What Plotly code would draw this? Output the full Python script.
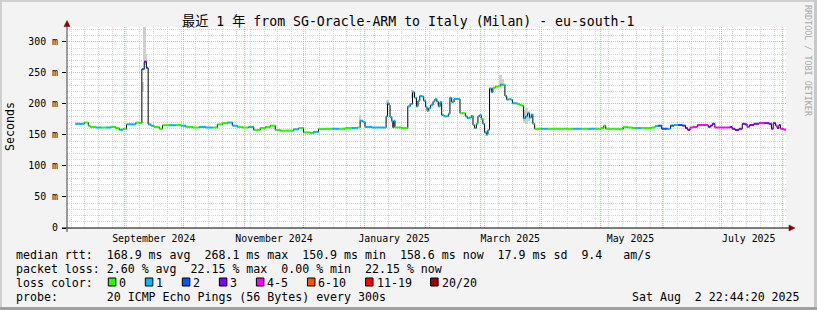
import pandas as pd
import plotly.graph_objects as go

# ---------------- data ----------------
START = pd.Timestamp("2024-08-02 22:44:20")
END = pd.Timestamp("2025-08-02 22:44:20")

day_offset = [4.2, 6.2, 8.8, 10.8, 11.7, 14.7, 17.2, 19.8, 22.3, 24.8, 26.5, 28.5, 30.2, 32.9, 35.0, 36.6,
              38.0, 39.2, 40.3, 41.2, 42.6, 44.2, 46.8, 48.5, 51.9, 55.2, 57.8, 60.3, 63.7, 67.1, 70.5,
              73.8, 76.3, 78.9, 81.4, 83.9, 86.5, 89.0, 92.2, 94.8, 98.1, 100.7, 103.2, 105.7, 108.3,
              111.7, 115.1, 117.6, 120.1, 123.5, 125.2, 127.7, 131.1, 134.5, 137.9, 141.2, 144.6, 147.5,
              148.8, 150.2, 151.3, 154.7, 158.1, 160.7, 162.0, 162.7, 163.5, 164.0, 164.9, 165.4, 165.9,
              166.5, 169.9, 172.1, 173.0, 174.2, 175.4, 176.4, 177.4, 178.2, 179.1, 180.1, 181.1, 182.1,
              182.8, 183.6, 184.6, 185.8, 186.8, 187.7, 188.5, 189.4, 190.2, 191.4, 192.7, 193.6, 194.4,
              195.3, 196.5, 198.2, 199.5, 200.9, 202.2, 203.2, 204.4, 205.3, 206.1, 206.9, 207.8, 208.6,
              209.5, 210.3, 211.1, 212.0, 213.0, 213.7, 214.5, 215.4, 216.2, 217.4, 218.8, 220.1, 221.3,
              222.3, 223.2, 224.2, 225.2, 226.1, 227.2, 228.6, 229.9, 231.1, 231.8, 232.8, 233.8, 234.8,
              235.7, 236.5, 237.4, 240.7, 244.1, 249.2, 252.6, 256.8, 261.0, 264.4, 267.8, 271.2, 272.5,
              273.5, 276.9, 280.3, 282.3, 284.5, 287.0, 288.7, 291.2, 293.8, 296.8, 298.5, 300.2, 301.9,
              304.8, 306.4, 308.2, 310.3, 312.4, 314.0, 315.1, 316.3, 317.8, 320.0, 322.5, 324.5, 325.5,
              326.7, 327.6, 328.9, 331.8, 334.3, 336.5, 337.7, 339.1, 341.1, 342.8, 344.1, 345.3, 346.5,
              348.7, 351.2, 353.8, 356.3, 357.6, 358.5, 359.7, 360.5, 361.4, 362.2, 363.9]

median_ms = [168, 168, 170, 165, 163, 162, 162, 162, 163, 161, 158.5, 160, 167, 167, 170, 169,
             256, 268.1, 258, 167, 165, 163, 160, 165.6, 165.6, 166, 165, 163, 162, 163, 162,
             162, 167, 169, 170, 165, 163, 162, 163, 158, 161, 163, 165, 158, 157,
             157, 159, 161, 154, 153, 155, 159.7, 160, 160, 160, 161, 161, 162,
             173, 171, 163, 162, 162, 162, 180, 201, 198, 179, 172, 162, 173,
             162, 161, 161, 196, 200, 219, 210, 196, 205, 213, 212, 205, 195,
             189, 193, 198, 204, 208, 204, 196, 203, 182, 180, 180, 184, 210,
             203, 208, 208, 185, 185, 180, 177, 178, 181, 166, 161, 168, 180,
             182, 176, 168, 154, 150.9, 158, 225, 219, 226, 228, 229, 231, 231,
             213, 207, 208, 207, 201, 201, 200, 198, 197, 177, 180, 185, 178,
             183, 168, 160, 160, 160, 160, 160, 160, 160, 160, 160, 161, 165,
             160, 160, 159, 163, 162, 161, 161, 161, 161, 162, 164, 165, 160,
             160, 165, 166, 166, 165, 161, 158, 162, 163, 166, 166, 166, 163,
             165, 168, 162, 162, 162, 163, 160, 158, 160, 168, 167, 163, 166,
             168, 169, 169, 168, 160, 169, 165, 161, 166, 160, 158.6]

loss_idx = [1, 1, 0, 0, 0, 1, 0, 1, 0, 0, 1, 0, 1, 1, 0, 0,
            2, 3, 2, 1, 1, 0, 0, 0, 1, 0, 1, 0, 0, 1, 1,
            0, 0, 0, 1, 1, 0, 0, 1, 0, 0, 0, 0, 0, 0,
            0, 1, 0, 0, 0, 1, 0, 0, 1, 0, 0, 1, 0,
            1, 1, 1, 1, 1, 1, 1, 1, 1, 1, 1, 1, 1,
            0, 0, 0, 1, 1, 1, 1, 1, 1, 1, 1, 1, 1,
            1, 1, 1, 1, 1, 1, 1, 1, 1, 1, 1, 1, 1,
            1, 1, 1, 0, 0, 1, 1, 1, 0, 1, 1, 0, 1,
            1, 0, 1, 1, 1, 1, 1, 1, 0, 0, 0, 1, 0,
            1, 1, 0, 1, 1, 1, 0, 0, 0, 1, 1, 1, 1,
            1, 0, 0, 1, 0, 0, 0, 1, 0, 1, 0, 0, 0,
            0, 0, 0, 0, 0, 0, 1, 0, 0, 0, 1, 2, 2,
            1, 2, 1, 2, 3, 3, 3, 4, 4, 4, 4, 4, 3,
            3, 3, 4, 4, 4, 3, 3, 3, 3, 3, 3, 4, 3,
            3, 4, 3, 3, 3, 3, 4, 3, 3, 4, 4]

loss_labels = ["0", "1", "2", "3", "4-5", "6-10", "11-19", "20/20"]
loss_colors = ["#26ff00", "#00b8ff", "#0059ff", "#7e00ff", "#ff00ff", "#ff5500", "#ff0000", "#a10000"]

# smoke (spread of the individual pings) around the median
smoke_day = [38.6, 39.2, 39.8, 148.8, 162.6, 175.2, 176.0, 213.0, 220.2, 221.0, 232.0, 233.2, 234.4]
smoke_lo = [219, 270, 262, 173, 198, 211, 209, 148, 229, 232, 170, 168, 172]
smoke_hi = [236, 340, 280, 182, 207, 222, 216, 156, 246, 240, 190, 194, 188]

x_label_dates = ["2024-09-16", "2024-11-16", "2025-01-16", "2025-03-16", "2025-05-16", "2025-07-15"]
x_label_text = ["September 2024", "November 2024", "January 2025", "March 2025", "May 2025", "July 2025"]
month_starts = pd.date_range("2024-09-01", "2025-08-01", freq="MS")

y_tick_vals = [0, 50, 100, 150, 200, 250, 300]
y_tick_text = ["0", "50 m", "100 m", "150 m", "200 m", "250 m", "300 m"]

title_text = "最近 1 年 from SG-Oracle-ARM to Italy (Milan) - eu-south-1"
legend_rtt = "median rtt:  168.9 ms avg  268.1 ms max  150.9 ms min  158.6 ms now  17.9 ms sd  9.4   am/s"
legend_loss = "packet loss: 2.60 % avg  22.15 % max  0.00 % min  22.15 % now"
legend_probe = "probe:       20 ICMP Echo Pings (56 Bytes) every 300s"
stamp_text = "Sat Aug  2 22:44:20 2025"

# ---------------- figure ----------------
W, H = 817, 310
PL, PR, PT, PB = 67, 786, 27, 228


def px(x):
    return (x - PL) / (PR - PL)


def py(y):
    return (PB - y) / (PB - PT)


def nb(s):
    return s.replace(" ", "\u00a0")


MONO = "DejaVu Sans Mono"
times = START + pd.to_timedelta(day_offset, unit="D")
t_next = list(times[1:]) + [END]

fig = go.Figure()

# smoke
fig.add_trace(go.Bar(
    x=START + pd.to_timedelta(smoke_day, unit="D"),
    y=[h - l for h, l in zip(smoke_hi, smoke_lo)],
    base=smoke_lo,
    width=1.4 * 86400000,
    marker=dict(color="#cfcfcf", line=dict(width=0)),
    hoverinfo="skip", showlegend=False,
))

# black median step line
fig.add_trace(go.Scatter(
    x=list(times) + [END], y=median_ms + [median_ms[-1]],
    mode="lines", line=dict(color="#000000", width=1, shape="hv"),
    hoverinfo="skip", showlegend=False,
))

# loss-coloured median segments
for k, col in enumerate(loss_colors):
    xs, ys = [], []
    for t0, t1, v, c in zip(times, t_next, median_ms, loss_idx):
        if c == k:
            xs += [t0, t1, None]
            ys += [v, v, None]
    if xs:
        fig.add_trace(go.Scatter(x=xs, y=ys, mode="lines",
                                 line=dict(color=col, width=2),
                                 hoverinfo="skip", showlegend=False))

# dummy trace for the label axis
fig.add_trace(go.Scatter(x=[START, END], y=[None, None], xaxis="x2", mode="lines",
                         hoverinfo="skip", showlegend=False))

grid_major = "#f0a8a8"
grid_minor = "#d4d4d4"
dash = "1px,1px"

fig.update_layout(
    width=W, height=H,
    margin=dict(l=PL, r=W - PR, t=PT, b=H - PB, pad=0),
    paper_bgcolor="#f3f3f3", plot_bgcolor="#ffffff",
    showlegend=False,
    font=dict(family=MONO, size=10, color="#000000"),
    xaxis=dict(type="date", range=[START, END], tickmode="array", tickvals=month_starts,
               showticklabels=False, ticks="", showgrid=True, gridcolor=grid_major,
               griddash=dash, gridwidth=1, zeroline=False, showline=False, automargin=False,
               minor=dict(dtick=7 * 86400000, tick0="2024-08-05", showgrid=True,
                          gridcolor=grid_minor, griddash=dash, gridwidth=1, ticks="")),
    xaxis2=dict(type="date", overlaying="x", anchor="y", side="bottom", range=[START, END],
                tickmode="array", tickvals=x_label_dates, ticktext=x_label_text,
                showgrid=False, ticks="", zeroline=False, showline=False, automargin=False,
                tickfont=dict(family=MONO, size=9.9, color="#000000"), ticklabelstandoff=3),
    yaxis=dict(range=[0, 324], tickmode="array", tickvals=y_tick_vals, ticktext=y_tick_text,
               showgrid=True, gridcolor=grid_major, griddash=dash, gridwidth=1,
               zeroline=False, showline=False, automargin=False,
               ticks="outside", ticklen=4, tickcolor="#000000", tickwidth=1,
               tickfont=dict(family=MONO, size=9.9, color="#000000"), ticklabelstandoff=2,
               minor=dict(dtick=10, showgrid=True, gridcolor=grid_minor, griddash=dash,
                          gridwidth=1, ticks="")),
    bargap=0,
)

shapes = []
# frame shading
shapes.append(dict(type="rect", xref="paper", yref="paper", x0=px(0), x1=px(W), y0=py(0), y1=py(2),
                   fillcolor="#cfcfcf", line=dict(width=0), layer="above"))
shapes.append(dict(type="rect", xref="paper", yref="paper", x0=px(0), x1=px(2), y0=py(0), y1=py(H),
                   fillcolor="#cfcfcf", line=dict(width=0), layer="above"))
shapes.append(dict(type="rect", xref="paper", yref="paper", x0=px(W - 3), x1=px(W), y0=py(0), y1=py(H),
                   fillcolor="#c8c8c8", line=dict(width=0), layer="above"))
shapes.append(dict(type="rect", xref="paper", yref="paper", x0=px(0), x1=px(W), y0=py(H - 3), y1=py(H),
                   fillcolor="#a0a0a0", line=dict(width=0), layer="above"))
# axes
shapes.append(dict(type="line", xref="paper", yref="paper", x0=px(62), x1=px(790), y0=py(228), y1=py(228),
                   line=dict(color="#000000", width=1), layer="above"))
shapes.append(dict(type="line", xref="paper", yref="paper", x0=px(67), x1=px(67), y0=py(232), y1=py(24),
                   line=dict(color="#404040", width=1), layer="above"))
# arrows
shapes.append(dict(type="path", xref="paper", yref="paper",
                   path=f"M {px(64)} {py(26.5)} L {px(67)} {py(20.5)} L {px(70)} {py(26.5)} Z",
                   fillcolor="#8b0000", line=dict(color="#8b0000", width=0.5), layer="above"))
shapes.append(dict(type="path", xref="paper", yref="paper",
                   path=f"M {px(789)} {py(225)} L {px(795)} {py(228)} L {px(789)} {py(231)} Z",
                   fillcolor="#8b0000", line=dict(color="#8b0000", width=0.5), layer="above"))

annotations = []


def add_text(x, y, text, size=11.6, xanchor="left", color="#000000", angle=0, family=MONO):
    annotations.append(dict(x=px(x), y=py(y), xref="paper", yref="paper", text=nb(text),
                            showarrow=False, xanchor=xanchor, yanchor="middle",
                            font=dict(family=family, size=size, color=color),
                            textangle=angle, borderpad=0, borderwidth=0))


add_text(408, 21.5, title_text, size=13.2, xanchor="center", family=MONO + ", Noto Sans CJK SC")
add_text(10, 127, "Seconds", size=11.6, xanchor="center", angle=-90)
add_text(808, 61, "RRDTOOL / TOBI OETIKER", size=8.4, xanchor="center", angle=90, color="#a8a8a8")
add_text(16, 254.5, legend_rtt)
add_text(16, 268.5, legend_loss)
add_text(16, 282.5, "loss color:")
add_text(16, 296.5, legend_probe)
add_text(800, 296.5, stamp_text, xanchor="right")

# loss colour legend boxes
bx = 108.3
for lab, col in zip(loss_labels, loss_colors):
    shapes.append(dict(type="rect", xref="paper", yref="paper", x0=px(bx), x1=px(bx + 7.5), y0=py(278),
                       y1=py(286), fillcolor=col, line=dict(color="#000000", width=1), layer="above"))
    add_text(bx + 11, 282.5, lab)
    bx += 30 + 7.02 * len(lab)

fig.update_layout(shapes=shapes, annotations=annotations)
fig.write_html("out.html")
